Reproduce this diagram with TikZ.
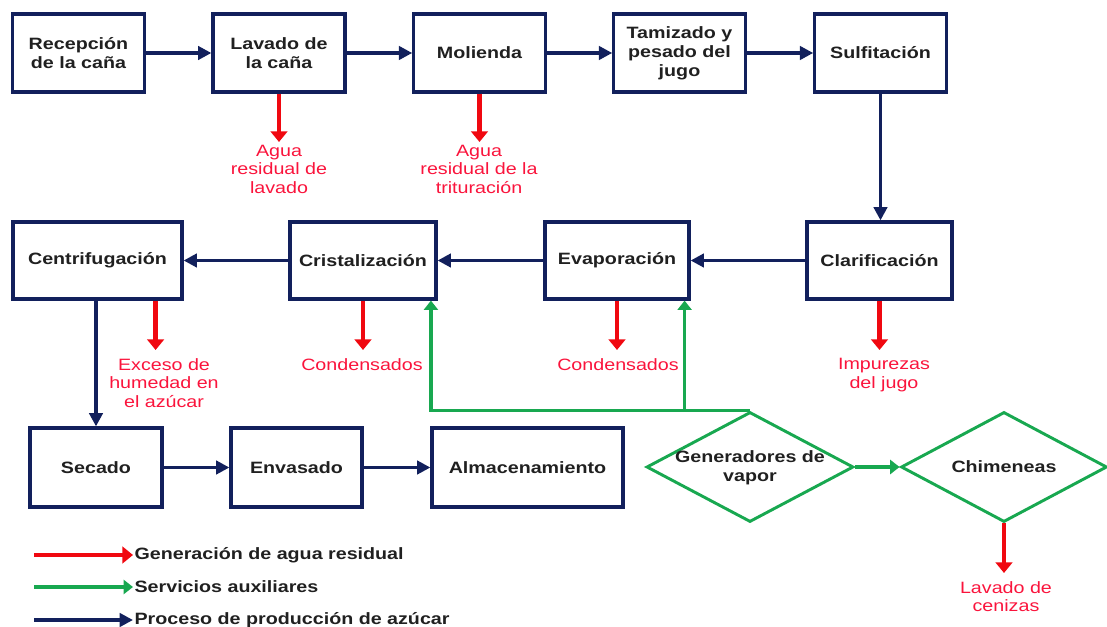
\documentclass[tikz,border=0pt]{standalone}
\usepackage{fontspec}
\setmainfont{Liberation Sans}[FakeStretch=1.2]
\usetikzlibrary{arrows.meta,shapes.geometric}

\definecolor{procblue}{RGB}{18,32,92}
\definecolor{wastered}{RGB}{240,8,16}
\definecolor{wastetxt}{RGB}{250,20,60}
\definecolor{auxgreen}{RGB}{24,168,80}
\definecolor{boxtxt}{RGB}{32,32,32}

\tikzset{
  procbox/.style={draw=procblue, line width=2.4pt, fill=white, text=boxtxt, align=center,
    font=\bfseries\fontsize{12.3}{14.4}\selectfont, inner sep=1pt},
  auxdiam/.style={draw=auxgreen, line width=2.2pt, diamond, inner sep=0pt},
  wastetext/.style={text=wastetxt, align=center, font=\fontsize{12.3}{13.9}\selectfont, inner xsep=1pt},
  legtext/.style={text=boxtxt, font=\bfseries\fontsize{12.3}{14}\selectfont, inner sep=1pt},
  procarrow/.style={draw=procblue, line width=2.8pt, -{Triangle[length=10pt,width=10pt]}},
  wastearrow/.style={draw=wastered, line width=3.6pt, -{Triangle[length=8pt,width=12.5pt]}},
  auxarrow/.style={draw=auxgreen, line width=2.6pt, -{Triangle[length=7pt,width=10.5pt]}}
}

\begin{document}
\begin{tikzpicture}[x=0.75pt,y=0.75pt,yscale=-1,xscale=1]
\useasboundingbox (0,0) rectangle (1107,627);

%Shape: Rectangle -- first row
\node [procbox, minimum width=98.5pt, minimum height=58.5pt] (rec) at (78.5,53) {Recepción\\de la caña};
\node [procbox, minimum width=99pt, minimum height=58.5pt] (lav) at (279,53) {Lavado de\\la caña};
\node [procbox, minimum width=98.5pt, minimum height=58.5pt] (mol) at (479.5,53) {Molienda};
\node [procbox, minimum width=98.5pt, minimum height=58.5pt] (tam) at (679.5,53) {Tamizado y\\pesado del\\jugo};
\node [procbox, minimum width=98.5pt, minimum height=58.5pt] (sul) at (880.5,53) {Sulfitación};

%Shape: Rectangle -- second row
\node [procbox, minimum width=126.75pt, minimum height=57.75pt] (cen) at (97.5,260.5) {Centrifugación};
\node [procbox, minimum width=109.5pt, minimum height=57.75pt] (cri) at (363,260.5) {Cristalización};
\node [procbox, minimum width=108pt, minimum height=57.75pt] (eva) at (617,260.5) {Evaporación};
\node [procbox, minimum width=108.75pt, minimum height=57.75pt] (cla) at (879.5,260.5) {Clarificación};

%Shape: Rectangle -- third row
\node [procbox, minimum width=99pt, minimum height=59.25pt] (sec) at (96,467.5) {Secado};
\node [procbox, minimum width=98.25pt, minimum height=59.25pt] (env) at (296.5,467.5) {Envasado};
\node [procbox, minimum width=143.25pt, minimum height=59.25pt] (alm) at (527.5,467.5) {Almacenamiento};

%Shape: Diamond
\node [auxdiam, minimum width=155.25pt, minimum height=82.5pt] (gen) at (750,467) {};
\node [auxdiam, minimum width=154.5pt, minimum height=82.5pt] (chi) at (1004,467) {};
\node [procbox, draw=none, fill=none] at (750,468) {Generadores de\\vapor};
\node [procbox, draw=none, fill=none] at (1004,467) {Chimeneas};

% Text Node
\node [wastetext, anchor=north, inner ysep=2pt] (agual) at (279,142) {Agua\\residual de\\lavado};
\node [wastetext, anchor=north, inner ysep=2pt] (aguam) at (479,142) {Agua\\residual de la\\trituración};
\node [wastetext, anchor=north, inner ysep=6pt] (exc) at (164,350) {Exceso de\\humedad en\\el azúcar};
\node [wastetext, anchor=north, inner ysep=6pt] (conc) at (362,350) {Condensados};
\node [wastetext, anchor=north, inner ysep=6pt] (cone) at (618,350) {Condensados};
\node [wastetext, anchor=north, inner ysep=6pt] (imp) at (884,350) {Impurezas\\del jugo};
\node [wastetext, anchor=north, inner ysep=6pt] (ceniz) at (1006,573) {Lavado de\\cenizas};

%Straight Lines -- sugar process
\draw [procarrow] (rec) -- (lav);
\draw [procarrow] (lav) -- (mol);
\draw [procarrow] (mol) -- (tam);
\draw [procarrow] (tam) -- (sul);
\draw [procarrow] (sul.south) -- (sul.south |- cla.north);
\draw [procarrow] (cla) -- (eva);
\draw [procarrow] (eva) -- (cri);
\draw [procarrow] (cri) -- (cen);
\draw [procarrow] (sec.north |- cen.south) -- (sec.north);
\draw [procarrow] (sec) -- (env);
\draw [procarrow] (env) -- (alm);

%Straight Lines -- waste water
\draw [wastearrow] (lav.south) -- (agual.north);
\draw [wastearrow] (mol.south) -- (mol.south |- aguam.north);
\draw [wastearrow] ([xshift=-21pt]cen.south east) -- ([xshift=-21pt]cen.south east |- exc.north);
\draw [wastearrow] (cri.south) -- (cri.south |- conc.north);
\draw [wastearrow] (eva.south) -- (eva.south |- cone.north);
\draw [wastearrow] (cla.south) -- (cla.south |- imp.north);
\draw [wastearrow] (chi.south) -- (chi.south |- ceniz.north);

%Straight Lines -- auxiliary services
\draw [auxarrow] (gen.north) -| ([xshift=-5pt]cri.south east);
\draw [auxarrow] ([xshift=-4.5pt]eva.south east |- gen.north) -- ([xshift=-4.5pt]eva.south east);
\draw [auxarrow] (gen.east) -- (chi.west);

%Legend
\coordinate (legr) at (34,555);
\coordinate (legg) at (34,587);
\coordinate (legb) at (34,620);
\node [legtext, anchor=west] (legrt) at (133,555) {Generación de agua residual};
\node [legtext, anchor=west] (leggt) at (133,587) {Servicios auxiliares};
\node [legtext, anchor=west] (legbt) at (133,620) {Proceso de producción de azúcar};
\draw [wastearrow, line width=2.4pt] (legr) -- (legrt.west);
\draw [auxarrow, line width=3pt] (legg) -- (leggt.west);
\draw [procarrow, line width=3.4pt] (legb) -- (legbt.west);

\end{tikzpicture}
\end{document}
